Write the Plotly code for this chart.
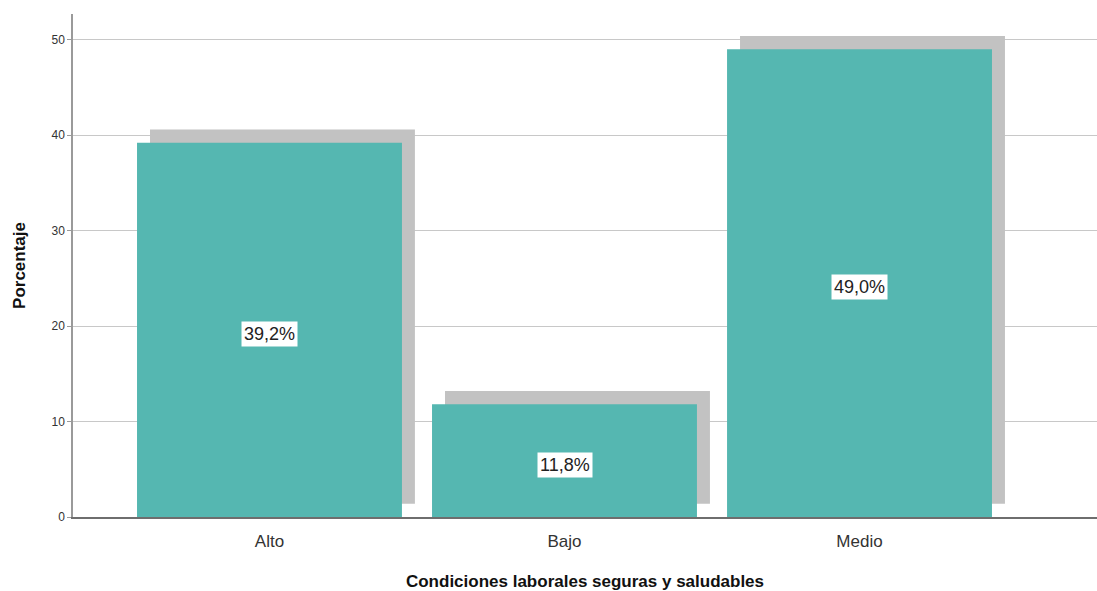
import plotly.graph_objects as go

categorias = ["Alto", "Bajo", "Medio"]
porcentajes = [39.2, 11.8, 49.0]
etiquetas = ["39,2%", "11,8%", "49,0%"]

ANCHO = 0.898
DESPL_X = 0.044      # desplazamiento horizontal de la sombra (unidades de categoría)
DESPL_Y = 1.4        # elevación de la sombra (unidades del eje y)

fig = go.Figure()

# sombra de cada barra
fig.add_trace(go.Bar(
    x=categorias, y=porcentajes, base=[DESPL_Y] * len(porcentajes),
    width=ANCHO, offset=-ANCHO / 2 + DESPL_X,
    marker=dict(color="#c2c2c2", line=dict(width=0)),
    hoverinfo="skip", showlegend=False,
))

# barras principales
fig.add_trace(go.Bar(
    x=categorias, y=porcentajes,
    width=ANCHO, offset=-ANCHO / 2,
    marker=dict(color="#55b7b1", line=dict(width=0)),
    showlegend=False,
))

for c, v, t in zip(categorias, porcentajes, etiquetas):
    fig.add_annotation(
        x=c, y=v / 2, text=t, showarrow=False, yshift=-4,
        font=dict(family="Liberation Sans, Arial", size=18, color="#222222"),
        bgcolor="white", borderpad=2,
    )

fig.update_layout(
    width=1097, height=591,
    margin=dict(l=73, r=0, t=14, b=74),
    paper_bgcolor="white", plot_bgcolor="white",
    barmode="overlay",
    font=dict(family="Liberation Sans, Arial", color="#222222"),
    xaxis=dict(
        range=[-0.666, 2.805],
        showgrid=False,
        showline=True, linecolor="#6e6e6e", linewidth=1.5,
        ticks="", ticklabelstandoff=8,
        tickfont=dict(size=17, color="#333333"),
        title=dict(text="<b>Condiciones laborales seguras y saludables</b>",
                   font=dict(size=17, color="#111111"), standoff=26),
    ),
    yaxis=dict(
        range=[0, 52.7],
        tickvals=[0, 10, 20, 30, 40, 50],
        showgrid=True, gridcolor="#c8c8c8", gridwidth=1.3,
        zeroline=False,
        showline=True, linecolor="#9a9a9a", linewidth=1.5,
        ticks="outside", ticklen=4, tickcolor="#9a9a9a",
        tickfont=dict(size=12, color="#333333"),
        title=dict(text="<b>Porcentaje</b>",
                   font=dict(size=17, color="#111111"), standoff=22),
    ),
)

fig.write_html("out.html")
